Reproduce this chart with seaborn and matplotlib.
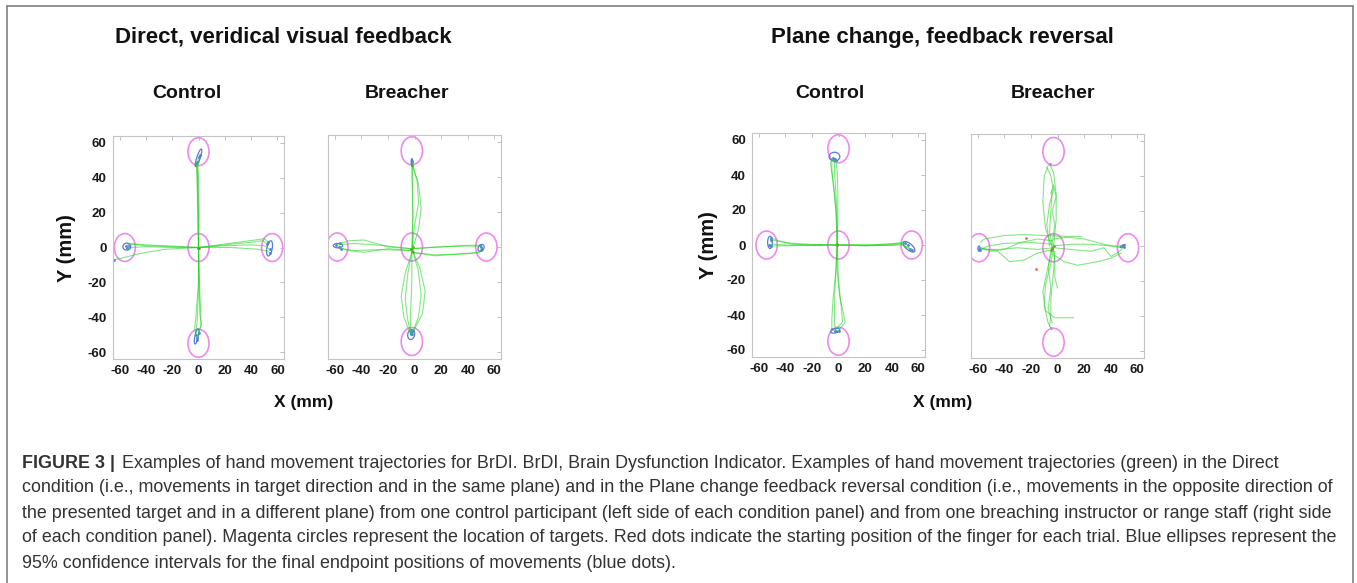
import matplotlib
matplotlib.use('Agg')
import matplotlib.pyplot as plt
from matplotlib.patches import Circle, Ellipse
from matplotlib.lines import Line2D
import seaborn as sns
import pandas as pd

W, H = 1357, 583

# ---- data (mm) ----
TICKS = [-60, -40, -20, 0, 20, 40, 60]
TARGET_R = 8

# Direct, control
dc_targets = [(0, 0), (0, 55), (0, -55), (-56, 0), (56, 0)]
dc_tracks = [
    [(0, 0), (-0.5, 15), (-1, 35), (-1.5, 47), (-1, 49)],
    [(0, 0), (0, 20), (-0.5, 40), (-1, 48), (0, 52)],
    [(0, 0), (0.5, 20), (0, 40), (-0.5, 47), (1, 53)],
    [(0, 0), (-0.5, 25), (-1, 45), (-2, 48)],
    [(0, 0), (0, -20), (-2, -40), (-3, -47), (-2, -50)],
    [(0, 0), (0.5, -20), (1, -38), (2, -44), (-1, -52)],
    [(0, 0), (0, -25), (-1, -42), (-2, -48), (-1.5, -53)],
    [(0, 0), (1, -25), (2, -45), (0, -49)],
    [(0, 0), (-20, 0.5), (-40, 1), (-50, 2), (-53, 1)],
    [(0, 0), (-20, 0), (-40, 0.5), (-50, 0), (-54, -0.5)],
    [(0, 0), (-25, -1), (-45, -3.5), (-58, -6), (-64, -7)],
    [(0, 0), (-20, 0.8), (-40, 1.5), (-52, 2.2), (-55, 1)],
    [(0, 0), (20, 2), (40, 4), (50, 5), (53, 3)],
    [(0, 0), (20, 1), (40, 1.5), (50, 1), (54, -1)],
    [(0, 0), (25, 0), (45, -1), (52, -2), (54, -3)],
    [(0, 0), (20, 1.5), (40, 3), (49, 4), (52, 2)],
]
dc_ellipses = [(0, 51.5, 11, 2.5, 66), (-1.5, -51, 9, 2.5, 75),
               (-54.5, 0.5, 6, 4, 0), (54, -0.5, 9, 4, 75)]
dc_starts = [(-0.5, 0), (0, -0.5)]

# Direct, breacher
db_targets = [(-2, 0), (-2, 55), (-2, -54), (-58, 0), (54, 0)]
db_tracks = [
    [(-2, -1), (-2, 15), (-2, 35), (-2, 46), (-2, 49)],
    [(-2, -1), (0, 12), (3, 25), (2, 38), (-1, 46), (-2, 48)],
    [(-1, 0), (3, 10), (5, 22), (3, 36), (-1, 45), (-2, 47)],
    [(-2, 0), (-1, 20), (-2, 40), (-2, 47)],
    [(-2, -3), (-7, -15), (-10, -28), (-8, -40), (-4, -48), (-3, -50)],
    [(-2, -3), (-5, -15), (-7, -30), (-5, -42), (-3, -49)],
    [(-1, -3), (4, -12), (8, -25), (6, -38), (0, -47), (-2, -50)],
    [(-1, -3), (3, -14), (5, -28), (3, -40), (-1, -48)],
    [(-2, -3), (-2, -20), (-3, -38), (-3, -48)],
    [(-2, -1), (-20, 0), (-38, 4), (-50, 3.5), (-56, 2)],
    [(-2, -2), (-20, -1), (-38, -3), (-50, -2), (-57, 0)],
    [(-2, -2), (-25, -1.5), (-45, -2), (-55, -1)],
    [(-2, -1), (-25, 1), (-45, 2), (-55, 1.5), (-59, 1)],
    [(-2, -1), (15, 0), (35, 0.5), (48, 0.5), (50, 0)],
    [(-2, -3), (15, -5), (35, -4), (48, -3), (51, -1)],
    [(-2, -3), (15, -4.5), (35, -4), (47, -3.5), (50, -2)],
    [(-2, -1), (20, 0), (40, 1), (49, 1)],
]
db_ellipses = [(-2, 48.5, 4, 1, 90), (-2.5, -50, 6, 5, 60),
               (-57.5, 0.8, 7, 2.5, 0), (50, -0.5, 5, 3.5, 30)]
db_starts = [(-2, -2), (-1, -3), (-3, -1), (-1, 0)]

# Plane change, control
pc_targets = [(0, 0), (0, 55), (0, -55), (-54, 0), (55, 0)]
pc_tracks = [
    [(-1, 0), (-1.5, 15), (-3, 30), (-5, 43), (-5, 49)],
    [(-1, 0), (-1, 15), (-2, 30), (-3, 42), (-3, 49)],
    [(-1, 0), (-0.5, 15), (-0.5, 30), (-1, 42), (-2, 48)],
    [(-1, 0), (-2, 20), (-4, 35), (-6, 47), (-4, 50)],
    [(-1, 0), (-2, -15), (-4, -30), (-5, -42), (-5, -48)],
    [(-1, 0), (-1, -15), (1, -30), (4, -40), (5, -44), (0, -49)],
    [(-1, 0), (-2, -15), (-3, -30), (-3, -45), (-2, -49)],
    [(-1, 0), (0, -20), (2, -35), (3, -44), (-3, -49)],
    [(-1, 0), (-20, 0), (-35, 0.5), (-45, 2.5), (-51, 4)],
    [(-1, 0), (-20, 0.3), (-35, 1), (-45, 2), (-51, 3)],
    [(-1, 0), (-25, 0), (-40, 0), (-50, 0.5), (-52, 0)],
    [(-1, 0), (-25, -0.3), (-45, -0.5), (-51, -0.5)],
    [(-1, 0), (20, 0), (40, 0.5), (48, 1.5), (52, 0)],
    [(-1, 0), (20, -0.5), (40, 0), (47, 0.5), (54, -2)],
    [(-1, 0), (25, 0), (45, 1), (50, 1)],
    [(-1, 0), (20, -0.3), (40, -0.2), (48, 0), (55, -3)],
]
pc_ellipses = [(-3, 50.5, 8, 5, 0), (-2.5, -49, 7, 2.5, 10),
               (-51.5, 1.5, 3.5, 7, 0), (53, -1, 10, 4, -30)]
pc_starts = [(-1, 0), (-1.5, 0.5)]

# Plane change, breacher
pb_targets = [(-3, -1), (-3, 54), (-3, -55), (-59, -1), (53, -1)]
pb_tracks = [
    [(-4, -1), (-9, 10), (-11, 25), (-10, 40), (-7, 46)],
    [(-3, 0), (-1, 15), (-1, 30), (-3, 42), (-6, 47)],
    [(-4, 2), (-2, 12), (-4, 20), (-1, 28), (-3, 35), (-5, 30)],
    [(-3, -3), (-6, 8), (-5, 20), (-4, 32)],
    [(-6, 0), (-8, 12), (-6, 24), (-3, 32), (-5, 40), (-8, 45)],
    [(-3, -1), (-5, -10), (-9, -22), (-10, -34), (-7, -44), (-5, -47)],
    [(-3, -2), (-2, -10), (-2, -18), (0, -24)],
    [(-4, -2), (-8, -15), (-11, -26), (-9, -37), (-2, -41), (5, -41), (12, -41)],
    [(-2, -3), (-3, -15), (-5, -30), (-5, -40), (-6, -46)],
    [(-5, -3), (-7, -12), (-5, -24), (-7, -36), (-4, -44)],
    [(18, 5.5), (5, 5.5), (-10, 6), (-25, 6.5), (-40, 6), (-55, 4), (-58, 2)],
    [(-3, -1), (-15, -2), (-30, -1), (-45, -2), (-57, -2)],
    [(-3, -2), (-15, -4), (-25, -8), (-36, -9), (-45, -3), (-58, -1)],
    [(-3, 1), (-20, 2), (-40, 1.5), (-52, 0), (-58, -2)],
    [(-4, 3), (-15, 4), (-28, 2), (-40, -2), (-50, -3), (-58, -1)],
    [(-3, 0), (10, 1), (25, 1), (40, 0), (50, 0)],
    [(-3, -1), (10, -2), (25, -3), (35, -1), (40, -6), (47, -3), (50, 0)],
    [(-3, -5), (5, -9), (15, -11), (30, -9), (40, -7), (48, -4)],
    [(-3, 4), (8, 5), (20, 4), (35, 1), (48, -1)],
]
pb_ends = [(-59, -1.5), (-58, -2), (49, 0), (50, -0.5), (-6, 47), (-5, -47)]
pb_ellipses = [(-59, -1.5, 1.5, 3, 0), (49, 0, 4, 1, 20)]
pb_starts = [(-4, -1), (-3, 0), (-5, -2), (-16, -13), (-24, 4.5)]

# ---- style ----
GREEN = '#1ed21e'
BLUE = '#5a78e6'
MAGENTA = '#ee8aee'
SANS = ['Liberation Sans', 'DejaVu Sans']

sns.set_theme(style='white')
plt.rcParams['font.family'] = SANS


def fx(px):
    return px / W


def fy(py):
    return 1 - py / H


def draw_panel(ax, tracks, targets, ellipses, starts, ends=None, ylabels=True):
    rows = [(i, x, y) for i, tr in enumerate(tracks) for x, y in tr]
    df = pd.DataFrame(rows, columns=['trial', 'x', 'y'])
    sns.lineplot(data=df, x='x', y='y', units='trial', estimator=None, sort=False,
                 color=GREEN, lw=0.8, alpha=0.55, ax=ax, legend=False)
    if ends is None:
        end_df = df.groupby('trial').tail(1)
    else:
        end_df = pd.DataFrame(ends, columns=['x', 'y'])
    sns.scatterplot(data=end_df, x='x', y='y', color=BLUE, s=4, linewidth=0, ax=ax, legend=False)
    st = pd.DataFrame(starts, columns=['x', 'y'])
    sns.scatterplot(data=st, x='x', y='y', color='#e02020', s=4, alpha=0.7, linewidth=0,
                    ax=ax, legend=False)
    for cx, cy in targets:
        ax.add_patch(Circle((cx, cy), TARGET_R, fill=False, ec=MAGENTA, lw=1.2))
    for cx, cy, w, h, a in ellipses:
        ax.add_patch(Ellipse((cx, cy), w, h, angle=a, fill=False, ec=BLUE, lw=0.9))
    ax.set_xlim(-65, 65)
    ax.set_ylim(-64, 64)
    ax.set_xticks(TICKS, labels=[str(t) for t in TICKS], fontweight='bold')
    ax.set_yticks(TICKS, labels=[str(t) for t in TICKS], fontweight='bold')
    ax.tick_params(direction='in', length=3, width=0.6, color='#b5b5b5', top=True, right=True,
                   labelsize=9.5, labelcolor='#1a1a1a', pad=4.5)
    if not ylabels:
        ax.tick_params(labelleft=False)
    for s in ax.spines.values():
        s.set_color('#c4c4c4')
        s.set_linewidth(0.8)
    ax.set_xlabel('')
    ax.set_ylabel('')


fig = plt.figure(figsize=(W / 100, H / 100), dpi=100)
fig.patch.set_facecolor('white')

# axes boxes in pixels: left, right, top, bottom
boxes = [(113, 284, 136, 359), (328, 501, 135, 359), (752, 925, 133, 357), (971, 1144, 134, 358)]
panels = [
    (dc_tracks, dc_targets, dc_ellipses, dc_starts, None, True),
    (db_tracks, db_targets, db_ellipses, db_starts, None, False),
    (pc_tracks, pc_targets, pc_ellipses, pc_starts, None, True),
    (pb_tracks, pb_targets, pb_ellipses, pb_starts, pb_ends, False),
]
for (l, r, t, b), (tr, tg, el, st, en, yl) in zip(boxes, panels):
    ax = fig.add_axes([fx(l), fy(b), fx(r - l), (b - t) / H])
    draw_panel(ax, tr, tg, el, st, en, yl)

# titles
fig.text(fx(283), fy(37), 'Direct, veridical visual feedback', ha='center', va='center',
         fontsize=16, fontweight='bold', color='#111111')
fig.text(fx(942), fy(37), 'Plane change, feedback reversal', ha='center', va='center',
         fontsize=16, fontweight='bold', color='#111111')
for x, s in [(187, 'Control'), (407, 'Breacher'), (830, 'Control'), (1053, 'Breacher')]:
    fig.text(fx(x), fy(93), s, ha='center', va='center', fontsize=14, fontweight='bold', color='#111111')
for x, y in [(67, 248), (708, 245)]:
    fig.text(fx(x), fy(y), 'Y (mm)', ha='center', va='center', rotation=90,
             fontsize=14.5, fontweight='bold', color='#111111')
for x in [304, 943]:
    fig.text(fx(x), fy(403), 'X (mm)', ha='center', va='center', fontsize=12.5,
             fontweight='bold', color='#111111')

# frame
frame = dict(transform=fig.transFigure, color='#808080', lw=1.2)
fig.add_artist(Line2D([fx(7), fx(7)], [0, fy(6)], **frame))
fig.add_artist(Line2D([fx(1353), fx(1353)], [0, fy(6)], **frame))
fig.add_artist(Line2D([fx(7), fx(1353)], [fy(6), fy(6)], **frame))

# caption
caption = [
    'Examples of hand movement trajectories for BrDI. BrDI, Brain Dysfunction Indicator. '
    'Examples of hand movement trajectories (green) in the Direct',
    'condition (i.e., movements in target direction and in the same plane) and in the Plane change '
    'feedback reversal condition (i.e., movements in the opposite direction of',
    'the presented target and in a different plane) from one control participant (left side of each '
    'condition panel) and from one breaching instructor or range staff (right side',
    'of each condition panel). Magenta circles represent the location of targets. Red dots indicate '
    'the starting position of the finger for each trial. Blue ellipses represent the',
    '95% confidence intervals for the final endpoint positions of movements (blue dots).',
]
cap_y = [463, 488, 513, 538, 563]
CAP_SIZE = 12.9
fig.text(fx(22), fy(cap_y[0]), 'FIGURE 3 |', ha='left', va='center', fontsize=CAP_SIZE,
         fontweight='bold', color='#333333')
for i, (line, y) in enumerate(zip(caption, cap_y)):
    x0 = 122 if i == 0 else 22
    fig.text(fx(x0), fy(y), line, ha='left', va='center', fontsize=CAP_SIZE, color='#333333')

fig.savefig('out.png', dpi=100)
